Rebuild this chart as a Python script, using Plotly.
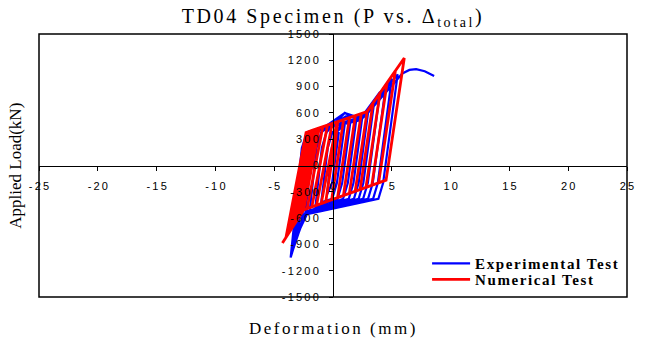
import plotly.graph_objects as go

# ---------------- data ----------------
# Experimental test (blue) hysteresis vertices: deformation (mm), load (kN)
exp_x = [0, 0.3, 0.5, -0.08, -0.5,
         -0.1, 0.3, 1.0, 0.33, -0.07, -1.0,
         -0.45, -0.05, 1.5, 0.78, 0.38, -1.5,
         -0.95, -0.55, 1.0, 2.0, 1.26, 0.86, -2.0,
         -1.4, -1.0, 1.1, 2.5, 1.74, 1.34, -2.2, -2.4,
         -1.75, -1.35, 1.0, 2.3, 3.0, 2.18, 1.78, -2.2, -2.7,
         -2.0, -1.6, 1.2, 2.3, 3.5, 2.58, 2.18, -2.2, -3.0,
         -2.25, -1.85, 2.3, 4.0, 2.96, 2.56, -2.3, -3.2,
         -2.4, -2.0, 2.4, 4.5, 3.38, 2.98, -2.4, -3.4,
         -2.55, -2.1, 2.5, 5.0, 3.81, 3.41, -2.5, -3.6,
         -2.65, -2.2, 2.6, 5.5, 4.26, 3.86, -2.4, -3.5,
         -2.6, -2.15, 2.7, 5.9, 6.5, 7.07, 7.8, 8.6]
exp_y = [0, 330, 380, -200, -330,
         200, 380, 470, -200, -380, -420,
         200, 380, 520, -200, -380, -480,
         200, 380, 600, 540, -200, -380, -540,
         200, 380, 560, 560, -200, -380, -520, -600,
         200, 380, 600, 540, 620, -200, -380, -540, -680,
         200, 380, 560, 540, 720, -200, -380, -550, -780,
         200, 380, 530, 840, -200, -380, -540, -870,
         200, 380, 520, 920, -200, -380, -550, -960,
         200, 380, 540, 990, -200, -380, -560, -1050,
         200, 380, 550, 1040, -200, -380, -560, -1000,
         200, 380, 560, 1050, 1090, 1100, 1075, 1020]

# Numerical test (red) hysteresis vertices
num_x = [0, 0.4, -0.617, -1.0, 0.329, 0.9, -0.115, -1.4, -0.069, 1.4,
         0.386, -1.8, -0.467, 1.9, 0.888, -2.2, -0.865, 2.4, 1.39, -2.5,
         -1.164, 2.9, 1.891, -2.5, -2.8, -1.389, 2.9, 3.4, 2.306, -2.5,
         -3.1, -1.614, 2.9, 4.0, 2.803, -2.5, -3.4, -1.84, 2.9, 4.6,
         3.301, -2.5, -3.7, -2.065, 2.9, 5.3, 3.882, -2.5, -4.0, -2.29,
         2.9, 6.06, 4.512, -2.5, -4.3]
num_y = [0, 499.5, -415.7, -434.3, 496.3, 522.4, -391.3, -453.7, 478.1, 545.2,
         -367.0, -473.1, 459.9, 568.1, -342.7, -492.5, 441.7, 590.9, -318.3, -507,
         428.0, 614, -294.0, -507, -569.7, 417.8, 614, 710.9, -273.9, -507,
         -632.4, 407.5, 614, 827.1, -249.8, -507, -695.1, 397.2, 614, 943.3,
         -225.7, -507, -757.8, 386.9, 614, 1078.9, -197.5, -507, -820.5, 376.6,
         614, 1226.1, -166.9, -507, -883.2]

x_ticks = [-25, -20, -15, -10, -5, 0, 5, 10, 15, 20, 25]
y_ticks = [-1500, -1200, -900, -600, -300, 0, 300, 600, 900, 1200, 1500]

SP = "\u2009"
def spaced(v):
    return SP.join(str(v))

x_ticktext = [spaced(v) for v in x_ticks]
y_ticktext = [spaced(v) for v in y_ticks]

series_names = ["Experimental Test", "Numerical Test"]
title_text = "TD04 Specimen (P vs. \u0394<sub>total</sub>)"
x_title = "Deformation (mm)"
y_title = "Applied Load(kN)"

def ls(text, px):
    return '<span style="letter-spacing:%spx">%s</span>' % (px, text)

# ---------------- figure ----------------
serif = "Liberation Serif, Times New Roman, serif"
fig = go.Figure()
fig.add_trace(go.Scatter(x=exp_x, y=exp_y, mode="lines", name=ls("<b>" + series_names[0] + "</b>", 1.6),
                         line=dict(color="#0000FF", width=2.2), legend="legend", showlegend=True))
fig.add_trace(go.Scatter(x=num_x, y=num_y, mode="lines", name=ls("<b>" + series_names[1] + "</b>", 1.6),
                         line=dict(color="#FF0000", width=2.8), legend="legend2", showlegend=True))

axis_font = dict(family="Liberation Sans, Arial, sans-serif", size=11, color="black")
fig.update_xaxes(range=[-25, 25], anchor="free", position=0.5, showline=True,
                 linecolor="black", linewidth=1, ticks="outside", ticklen=4,
                 tickcolor="black", tickvals=x_ticks, ticktext=x_ticktext,
                 showgrid=False, zeroline=False, tickfont=axis_font,
                 ticklabelstandoff=6)
fig.update_yaxes(range=[-1500, 1500], anchor="free", position=0.5, showline=True,
                 linecolor="black", linewidth=1, ticks="outside", ticklen=4,
                 tickcolor="black", tickvals=y_ticks, ticktext=y_ticktext,
                 showgrid=False, zeroline=False, tickfont=axis_font,
                 ticklabelstandoff=8)

leg_font = dict(family=serif, size=15, color="black")
fig.update_layout(
    width=646, height=340,
    showlegend=True,
    margin=dict(l=39, r=13, t=34, b=43),
    paper_bgcolor="white", plot_bgcolor="white",
    title=dict(text=ls(title_text, 2.6),
               x=0.5, xref="paper", xanchor="center",
               y=1 - 16 / 340, yref="container", yanchor="middle",
               font=dict(family=serif, size=20, color="black")),
    legend=dict(x=0.66, y=0.19, xanchor="left", yanchor="top", itemwidth=38,
                bgcolor="rgba(0,0,0,0)", font=leg_font, visible=True),
    legend2=dict(x=0.66, y=0.129, xanchor="left", yanchor="top", itemwidth=38,
                 bgcolor="rgba(0,0,0,0)", font=leg_font, visible=True),
    shapes=[dict(type="rect", xref="paper", yref="paper", x0=0, y0=0, x1=1, y1=1,
                 line=dict(color="black", width=1.5), layer="above")],
    annotations=[
        dict(text=ls(x_title, 2.5), xref="paper", yref="paper", x=0.5, y=-(328 - 297) / 263,
             xanchor="center", yanchor="middle", showarrow=False,
             font=dict(family=serif, size=17, color="black")),
        dict(text=y_title, xref="paper", yref="paper", x=-(39 - 15) / 594, y=0.5,
             xanchor="center", yanchor="middle", showarrow=False, textangle=-90,
             font=dict(family=serif, size=17, color="black")),
    ],
)

fig.write_html("out.html")
